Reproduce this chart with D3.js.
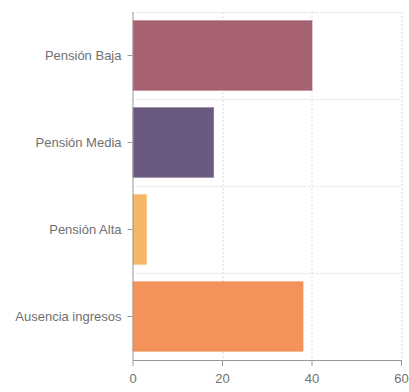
<!DOCTYPE html>
<meta charset="utf-8">
<head>
    <title>Ingresos</title>
    <style>
        body { margin: 0; background: #fff; }
        .tick text { fill: #707070; font-family: "Liberation Sans", Arial, sans-serif; font-size: 13px; }
        .grid line { stroke: #dcdcdc; stroke-dasharray: 2,2; }
        .axis path, .axis line { stroke: #999; }
    </style>
</head>
<script src="https://d3js.org/d3.v7.min.js"></script>
<svg id="chart" width="409" height="392"></svg>
<script>
    // data
    const categories = ["Pensión Baja", "Pensión Media", "Pensión Alta", "Ausencia ingresos"];
    const values = [40, 18, 3, 38];
    const colors = ["#a76271", "#6b5a7f", "#f3b766", "#f3925a"];
    const xTicks = [0, 20, 40, 60];

    const svg = d3.select("#chart");
    const margin = { top: 12, right: 8, bottom: 32, left: 132.5 };
    const width = 401 - margin.left;
    const height = 360 - margin.top;

    const g = svg.append("g")
        .attr("transform", "translate(" + margin.left + "," + margin.top + ")");

    const x = d3.scaleLinear().domain([0, 60]).range([0, width]);
    const y = d3.scaleBand().domain(categories).range([0, height])
        .paddingInner(0.2).paddingOuter(0.1);

    // horizontal grid at band edges
    const edges = categories.map(c => y(c) - y.step() * y.paddingInner() / 2);
    g.append("g").attr("class", "grid")
        .selectAll("line")
        .data(edges)
        .join("line")
        .attr("x1", 0).attr("x2", width)
        .attr("y1", d => Math.round(d) + 0.5).attr("y2", d => Math.round(d) + 0.5);

    // vertical grid
    g.append("g").attr("class", "grid")
        .selectAll("line")
        .data(xTicks.slice(1))
        .join("line")
        .attr("x1", d => Math.round(x(d)) + 0.5).attr("x2", d => Math.round(x(d)) + 0.5)
        .attr("y1", 0).attr("y2", height);

    // bars
    g.append("g")
        .selectAll("rect")
        .data(categories)
        .join("rect")
        .attr("x", 0.5)
        .attr("y", d => y(d))
        .attr("width", (d, i) => x(values[i]))
        .attr("height", y.bandwidth())
        .attr("fill", (d, i) => colors[i])
        .attr("stroke", (d, i) => colors[i])
        .attr("stroke-opacity", 0.6);

    // axes
    g.append("g").attr("class", "axis")
        .attr("transform", "translate(0," + height + ")")
        .call(d3.axisBottom(x).tickValues(xTicks).tickSizeOuter(0).tickSize(6).tickPadding(8))
        .call(a => a.select(".domain").attr("d", "M0.5,0.5H" + (width + 0.5)));

    g.append("g").attr("class", "axis")
        .call(d3.axisLeft(y).tickSizeOuter(0).tickSize(5).tickPadding(6))
        .call(a => a.select(".domain").attr("d", "M0.5,0V" + height));
</script>
